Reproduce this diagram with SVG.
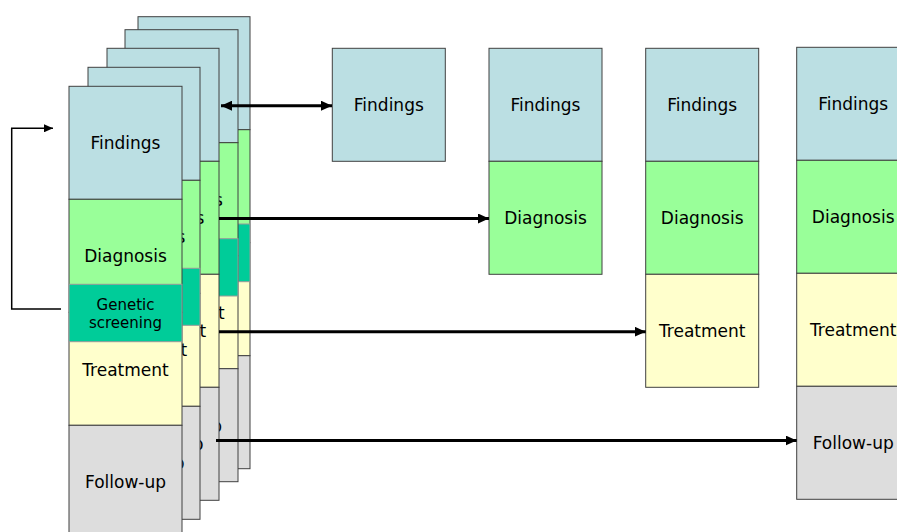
<svg xmlns="http://www.w3.org/2000/svg" width="897" height="532" viewBox="0 0 897 532">
<defs>
<style>
.f{fill:#BBDFE3;stroke:#404040;stroke-width:1}
.d{fill:#99FF99;stroke:#404040;stroke-width:1}
.t{fill:#FFFFCC;stroke:#404040;stroke-width:1}
.u{fill:#DDDDDD;stroke:#404040;stroke-width:1}
.g{fill:#00CC99;stroke:#999999;stroke-width:1}
text{font-family:"DejaVu Sans","Liberation Sans",sans-serif;font-size:17px;fill:#000;text-anchor:middle}
text.s{font-size:15px}
.c{fill:none;stroke:#000;stroke-width:3}
.fb{fill:none;stroke:#000;stroke-width:1.5}
</style>
<marker id="ah" markerUnits="userSpaceOnUse" markerWidth="11" markerHeight="10" refX="11" refY="5" orient="auto-start-reverse">
<path d="M0,0 L11,5 L0,10 z" fill="#000"/>
</marker>
<marker id="ahs" markerUnits="userSpaceOnUse" markerWidth="9" markerHeight="8" refX="9" refY="4" orient="auto">
<path d="M0,0 L9,4 L0,8 z" fill="#000"/>
</marker>
</defs>

<g id="card5" transform="translate(138,16.7)">
<rect class="f" x="0" y="0" width="112" height="113"/>
<rect class="d" x="0" y="113" width="112" height="113"/>
<rect class="t" x="0" y="226" width="112" height="113"/>
<rect class="u" x="0" y="339" width="112" height="113"/>
<rect class="g" x="0" y="207.3" width="112" height="57.7"/>
<text x="56" y="63">Findings</text>
<text x="56" y="176">Diagnosis</text>
<text x="56" y="289">Treatment</text>
<text x="56" y="402">Follow-up</text>
</g>

<g id="card4" transform="translate(125,29.7)">
<rect class="f" x="0" y="0" width="113" height="113"/>
<rect class="d" x="0" y="113" width="113" height="113"/>
<rect class="t" x="0" y="226" width="113" height="113"/>
<rect class="u" x="0" y="339" width="113" height="113"/>
<rect class="g" x="0" y="209" width="113" height="57.3"/>
<text x="56.5" y="63">Findings</text>
<text x="56.5" y="176">Diagnosis</text>
<text x="56.5" y="289">Treatment</text>
<text x="56.5" y="402">Follow-up</text>
</g>

<g id="card3" transform="translate(107,48.3)">
<rect class="f" x="0" y="0" width="112" height="113"/>
<rect class="d" x="0" y="113" width="112" height="113"/>
<rect class="t" x="0" y="226" width="112" height="113"/>
<rect class="u" x="0" y="339" width="112" height="113"/>
<text x="56" y="63">Findings</text>
<text x="56" y="176">Diagnosis</text>
<text x="56" y="289">Treatment</text>
<text x="56" y="402">Follow-up</text>
</g>

<g id="card2" transform="translate(88,67.3)">
<rect class="f" x="0" y="0" width="112" height="113"/>
<rect class="d" x="0" y="113" width="112" height="113"/>
<rect class="t" x="0" y="226" width="112" height="113"/>
<rect class="u" x="0" y="339" width="112" height="113"/>
<rect class="g" x="0" y="201" width="112" height="57"/>
<text x="56" y="63">Findings</text>
<text x="56" y="176">Diagnosis</text>
<text x="56" y="289">Treatment</text>
<text x="56" y="402">Follow-up</text>
</g>

<g id="card1" transform="translate(69,86.3)">
<rect class="f" x="0" y="0" width="113" height="113"/>
<rect class="d" x="0" y="113" width="113" height="113"/>
<rect class="t" x="0" y="226" width="113" height="113"/>
<rect class="u" x="0" y="339" width="113" height="113"/>
<rect class="g" x="0" y="198" width="113" height="57.4"/>
<text x="56.5" y="63">Findings</text>
<text x="56.5" y="176">Diagnosis</text>
<text class="s" x="56.5" y="223.5">Genetic</text>
<text class="s" x="56.5" y="241.5">screening</text>
<text x="56.5" y="289.5">Treatment</text>
<text x="56.5" y="402">Follow-up</text>
</g>

<g id="boxA" transform="translate(332.3,48.3)">
<rect class="f" x="0" y="0" width="113" height="113"/>
<text x="56.5" y="63">Findings</text>
</g>

<g id="boxB" transform="translate(489,48.3)">
<rect class="f" x="0" y="0" width="113" height="113"/>
<rect class="d" x="0" y="113" width="113" height="113"/>
<text x="56.5" y="63">Findings</text>
<text x="56.5" y="176">Diagnosis</text>
</g>

<g id="boxC" transform="translate(645.7,48.3)">
<rect class="f" x="0" y="0" width="113" height="113"/>
<rect class="d" x="0" y="113" width="113" height="113"/>
<rect class="t" x="0" y="226" width="113" height="113"/>
<text x="56.5" y="63">Findings</text>
<text x="56.5" y="176">Diagnosis</text>
<text x="56.5" y="289">Treatment</text>
</g>

<g id="boxD" transform="translate(796.7,47.3)">
<rect class="f" x="0" y="0" width="113" height="113"/>
<rect class="d" x="0" y="113" width="113" height="113"/>
<rect class="t" x="0" y="226" width="113" height="113"/>
<rect class="u" x="0" y="339" width="113" height="113"/>
<text x="56.5" y="63">Findings</text>
<text x="56.5" y="176">Diagnosis</text>
<text x="56.5" y="289">Treatment</text>
<text x="56.5" y="402">Follow-up</text>
</g>

<g id="connectors">
<line class="c" x1="221" y1="105.7" x2="332" y2="105.7" marker-start="url(#ah)" marker-end="url(#ah)"/>
<line class="c" x1="219" y1="218.5" x2="489" y2="218.5" marker-end="url(#ah)"/>
<line class="c" x1="219" y1="331.7" x2="645.7" y2="331.7" marker-end="url(#ah)"/>
<line class="c" x1="216" y1="440.5" x2="796.7" y2="440.5" marker-end="url(#ah)"/>
<polyline class="fb" points="61,309 11.7,309 11.7,128.3 53,128.3" marker-end="url(#ahs)"/>
</g>
</svg>
